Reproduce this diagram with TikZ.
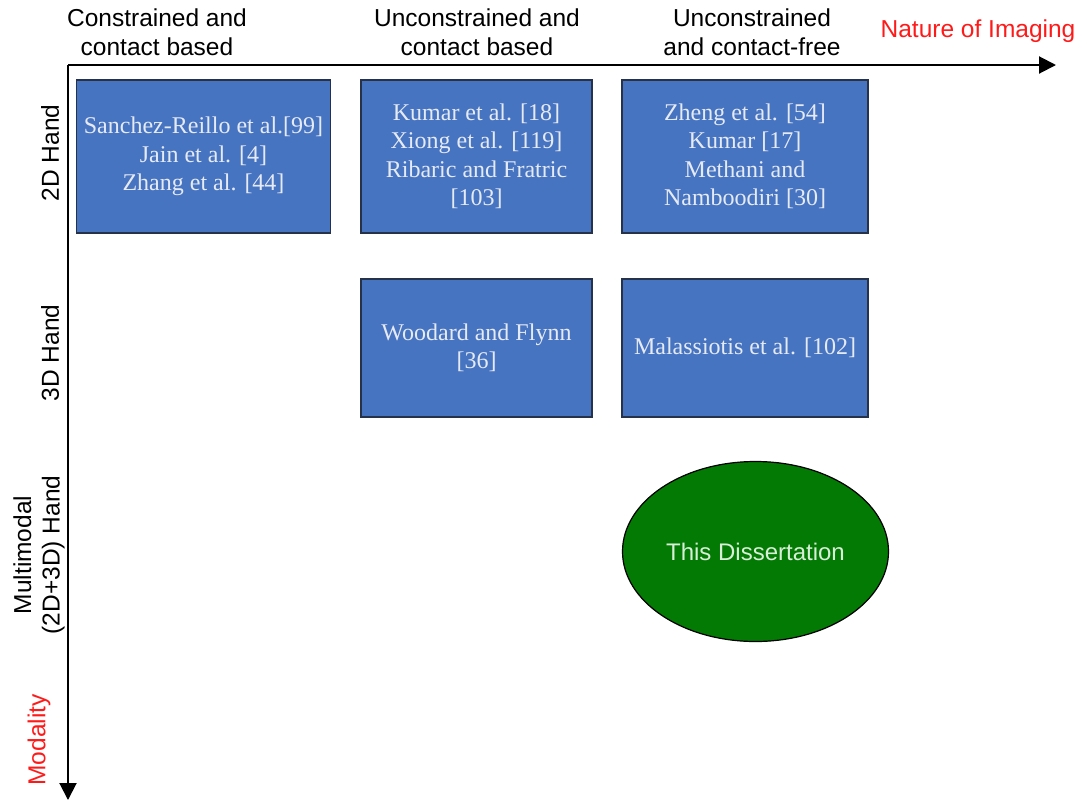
\documentclass[tikz,border=0pt]{standalone}
\usepackage{fontspec}
\usetikzlibrary{arrows.meta,shapes.geometric}
\newfontfamily\axisfont{Liberation Sans}
\newfontfamily\citefont{Liberation Serif}
\definecolor{boxblue}{HTML}{4674C1}
\definecolor{boxedge}{HTML}{25324A}
\definecolor{boxtext}{HTML}{E6EAF4}
\definecolor{ovalgreen}{HTML}{037A03}
\definecolor{ovaltext}{HTML}{D8EED8}
\definecolor{axisred}{HTML}{FF1A1A}
\tikzset{
  worksbox/.style={draw=boxedge, line width=1.4pt, fill=boxblue, text=boxtext,
    font=\citefont\fontsize{24}{28.5}\selectfont, align=center, inner sep=0pt},
  headtext/.style={font=\axisfont\fontsize{24.5}{28.5}\selectfont, align=center, inner sep=0pt},
  sidetext/.style={headtext, rotate=90},
  axisline/.style={line width=2pt, -{Triangle[length=17pt,width=17pt]}},
}
\begin{document}
\begin{tikzpicture}[x=1pt,y=-1pt]
\useasboundingbox (0,0) rectangle (1087,801);

% axes
\coordinate (origin) at (68,65);
\coordinate (xend) at (1056,65);
\coordinate (yend) at (68,800);
\draw[axisline] (origin) -- (xend);
\draw[axisline] (origin) -- (yend);

% column headings
\node[headtext] (hA) at (157,32) {Constrained and\\contact based};
\node[headtext] (hB) at (477,32) {Unconstrained and\\contact based};
\node[headtext] (hC) at (752,32) {Unconstrained\\and contact-free};
\node[headtext, text=axisred] (hX) at (978,31) {Nature of Imaging};

% row headings
\node[sidetext] (r2d) at (50,153) {2D Hand};
\node[sidetext] (r3d) at (50,353) {3D Hand};
\node[sidetext] (rmm) at (39,555) {Multimodal\\(2D+3D) Hand};
\node[sidetext, text=axisred] (rY) at (39,740) {Modality};

% first row: 2D hand
\node[worksbox, minimum width=254pt, minimum height=153pt] (b11) at (203.5,156.5)
  {Sanchez-Reillo et al.[99]\\Jain et al. [4]\\Zhang et al. [44]};
\node[worksbox, minimum width=231pt, minimum height=153pt] (b12) at (476.5,156.5)
  {Kumar et al. [18]\\Xiong et al. [119]\\Ribaric and Fratric\\{[103]}};
\node[worksbox, minimum width=246pt, minimum height=153pt] (b13) at (745,156.5)
  {Zheng et al. [54]\\Kumar [17]\\Methani and\\Namboodiri [30]};

% second row: 3D hand
\node[worksbox, minimum width=231pt, minimum height=138pt] (b22) at (476.5,348)
  {Woodard and Flynn\\{[36]}};
\node[worksbox, minimum width=246pt, minimum height=138pt] (b23) at (745,348)
  {Malassiotis et al. [102]};

% third row: multimodal
\node[ellipse, draw=black, line width=1.2pt, fill=ovalgreen, text=ovaltext,
  minimum width=266pt, minimum height=180pt, inner sep=0pt,
  font=\axisfont\fontsize{24}{28.5}\selectfont] (b33) at (755.5,551.5) {This Dissertation};
\end{tikzpicture}
\end{document}
